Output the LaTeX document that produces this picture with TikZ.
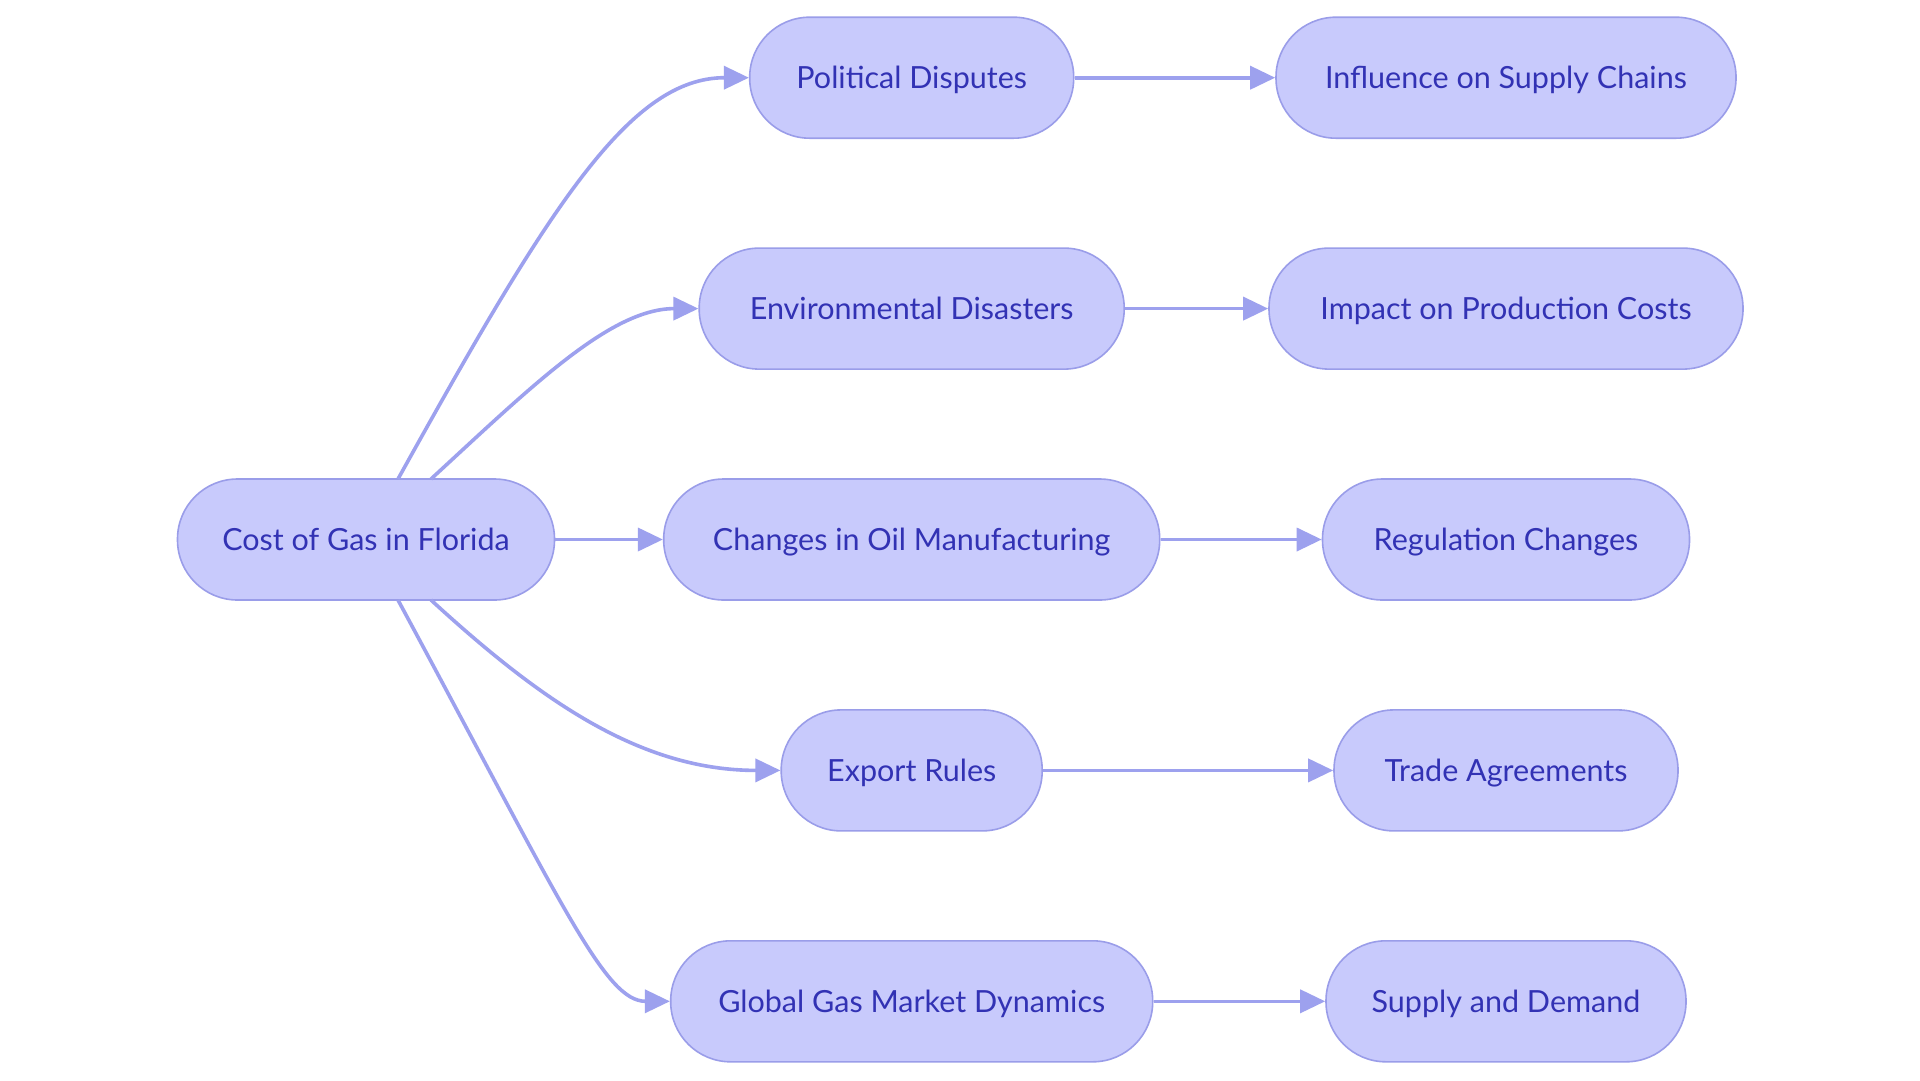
\documentclass[tikz,border=0pt]{standalone}
\usepackage{fontspec}
\setmainfont{Lato}
\usetikzlibrary{arrows.meta}
\definecolor{nodefill}{HTML}{C8CAFC}
\definecolor{nodeline}{HTML}{9A9DE9}
\definecolor{edgecol}{HTML}{9DA1EE}
\definecolor{textcol}{HTML}{3232B4}
\tikzset{
  pill/.style={draw=nodeline, fill=nodefill, line width=1.6pt, rounded corners=60pt,
    minimum height=121pt, inner sep=0pt, text=textcol, text depth=0pt,
    font=\fontsize{30.5}{36}\selectfont},
  link/.style={draw=edgecol, line width=3.6pt, -{Triangle[length=25pt,width=23pt]}}
}
\begin{document}
\begin{tikzpicture}[x=1pt,y=-1pt]
\useasboundingbox (0,0) rectangle (1920,1080);
\fill[white] (0,0) rectangle (1920,1080);
\node[pill, minimum width=377pt] (cost) at (366,539.5) {Cost of Gas in Florida};
\node[pill, minimum width=324pt] (pol) at (911.7,77.7) {Political Disputes};
\node[pill, minimum width=425pt] (env) at (911.7,308.6) {Environmental Disasters};
\node[pill, minimum width=496pt] (oil) at (911.7,539.5) {Changes in Oil Manufacturing};
\node[pill, minimum width=261pt] (exp) at (911.7,770.4) {Export Rules};
\node[pill, minimum width=482pt] (glob) at (911.7,1001.3) {Global Gas Market Dynamics};
\node[pill, minimum width=460pt] (infl) at (1506,77.7) {Influence on Supply Chains};
\node[pill, minimum width=474pt] (imp) at (1506,308.6) {Impact on Production Costs};
\node[pill, minimum width=367pt] (reg) at (1506,539.5) {Regulation Changes};
\node[pill, minimum width=344pt] (trade) at (1506,770.4) {Trade Agreements};
\node[pill, minimum width=360pt] (sup) at (1506,1001.3) {Supply and Demand};
\coordinate (c1) at (398,479);
\coordinate (c2) at (431,479);
\coordinate (c3) at (431,600);
\coordinate (c4) at (398,600);
\draw[link] (c1) .. controls (550,205) and (630,77.7) .. (pol.west);
\draw[link] (c2) .. controls (530,388) and (610,308.6) .. (env.west);
\draw[link] (cost.east) -- (oil.west);
\draw[link] (c3) .. controls (540,700) and (640,770.4) .. (exp.west);
\draw[link] (c4) .. controls (565,910) and (605,1001.3) .. (glob.west);
\draw[link] (pol.east) -- (infl.west);
\draw[link] (env.east) -- (imp.west);
\draw[link] (oil.east) -- (reg.west);
\draw[link] (exp.east) -- (trade.west);
\draw[link] (glob.east) -- (sup.west);
\end{tikzpicture}
\end{document}
